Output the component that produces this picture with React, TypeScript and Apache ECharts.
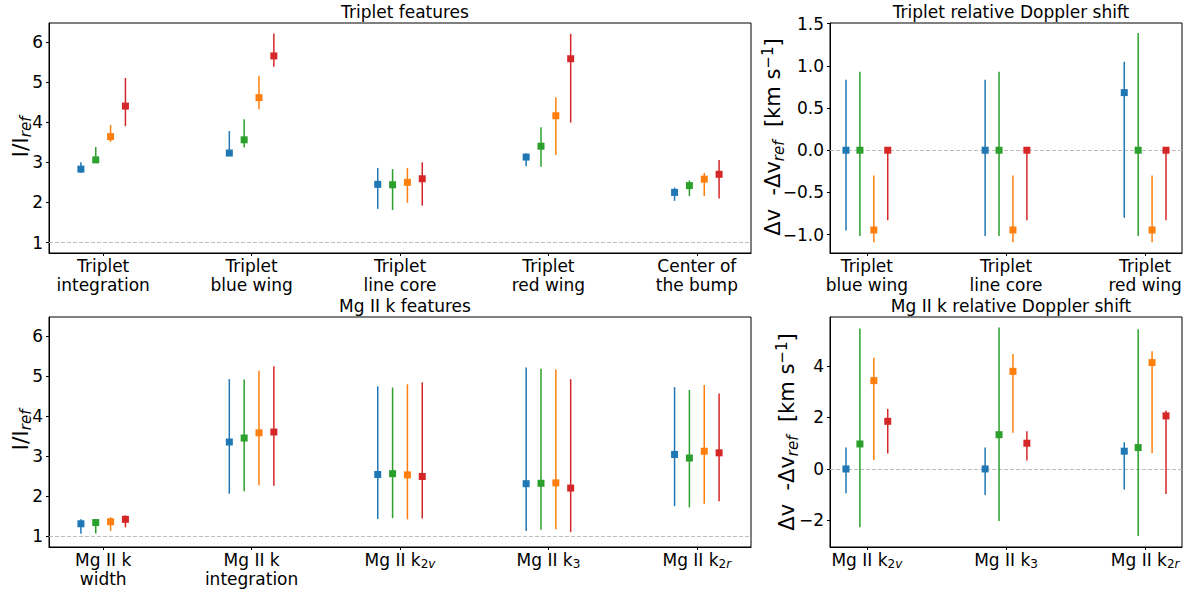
import React, { useEffect, useRef } from "react";
import * as echarts from "echarts";

const FONT = "DejaVu Sans";
const COLORS = ["#1f77b4", "#2ca02c", "#ff7f0e", "#d62728"];
const COLOR_NAMES = ["blue", "green", "orange", "red"];
const OFFSETS = [-0.15, -0.05, 0.05, 0.15];

// ---- Categories ----
const tripletCats = [
  "Triplet\nintegration",
  "Triplet\nblue wing",
  "Triplet\nline core",
  "Triplet\nred wing",
  "Center of\nthe bump",
];
const mgCats = [
  "Mg II k\nwidth",
  "Mg II k\nintegration",
  "{n|Mg II k}{s|2}{si|v}",
  "{n|Mg II k}{s|3}",
  "{n|Mg II k}{s|2}{si|r}",
];
const tripletShiftCats = ["Triplet\nblue wing", "Triplet\nline core", "Triplet\nred wing"];
const mgShiftCats = ["{n|Mg II k}{s|2}{si|v}", "{n|Mg II k}{s|3}", "{n|Mg II k}{s|2}{si|r}"];

// ---- Values: [value, lower end, upper end] ----
const tripletBlue = [[2.83, 2.74, 3.0], [3.23, 3.2, 3.78], [2.45, 1.84, 2.86], [3.13, 2.9, 3.22], [2.25, 2.04, 2.37]];
const tripletGreen = [[3.06, 3.0, 3.38], [3.56, 3.37, 4.07], [2.44, 1.81, 2.83], [3.4, 2.89, 3.87], [2.42, 2.16, 2.55]];
const tripletOrange = [[3.64, 3.51, 3.93], [4.61, 4.32, 5.15], [2.5, 1.99, 2.86], [4.16, 3.18, 4.62], [2.58, 2.16, 2.73]];
const tripletRed = [[4.4, 3.9, 5.1], [5.65, 5.38, 6.21], [2.59, 1.92, 3.0], [5.58, 3.99, 6.2], [2.7, 2.1, 3.06]];

const mgBlue = [[1.31, 1.06, 1.42], [3.35, 2.06, 4.92], [2.54, 1.43, 4.74], [2.31, 1.13, 5.21], [3.04, 1.75, 4.72]];
const mgGreen = [[1.34, 1.07, 1.41], [3.45, 2.12, 4.91], [2.56, 1.45, 4.71], [2.32, 1.16, 5.18], [2.95, 1.72, 4.65]];
const mgOrange = [[1.36, 1.13, 1.47], [3.58, 2.27, 5.13], [2.53, 1.42, 4.79], [2.33, 1.17, 5.16], [3.12, 1.81, 4.77]];
const mgRed = [[1.42, 1.22, 1.52], [3.6, 2.26, 5.24], [2.49, 1.44, 4.84], [2.2, 1.1, 4.92], [3.08, 1.87, 4.56]];

const tripletShiftBlue = [[0.0, -0.95, 0.834], [0.0, -1.016, 0.834], [0.683, -0.8, 1.048]];
const tripletShiftGreen = [[0.0, -1.016, 0.93], [0.0, -1.016, 0.93], [0.0, -1.016, 1.389]];
const tripletShiftOrange = [[-0.945, -1.09, -0.3], [-0.945, -1.09, -0.3], [-0.945, -1.09, -0.3]];
const tripletShiftRed = [[0.0, -0.83, 0.0], [0.0, -0.83, 0.0], [0.0, -0.83, 0.0]];

const mgShiftBlue = [[0.0, -0.94, 0.83], [0.0, -1.01, 0.83], [0.69, -0.8, 1.04]];
const mgShiftGreen = [[0.97, -2.26, 5.45], [1.33, -2.02, 5.49], [0.83, -2.6, 5.42]];
const mgShiftOrange = [[3.43, 0.35, 4.32], [3.79, 1.41, 4.46], [4.13, 0.61, 4.57]];
const mgShiftRed = [[1.85, 0.6, 2.33], [1.0, 0.33, 1.46], [2.06, -0.97, 2.27]];

// ---- Tick values ----
const intensityTicks = [1, 2, 3, 4, 5, 6];
const tripletShiftTicks = [-1.0, -0.5, 0.0, 0.5, 1.0, 1.5];
const mgShiftTicks = [-2, 0, 2, 4];

const panels = [
  {
    title: "Triplet features",
    cats: tripletCats,
    sets: [tripletBlue, tripletGreen, tripletOrange, tripletRed],
    grid: { left: 49, top: 23, width: 702, height: 230 },
    xr: [-0.365, 4.365],
    yr: [0.74, 6.47],
    yticks: intensityTicks,
    ref: 1,
    dec: 0,
  },
  {
    title: "Triplet relative Doppler shift",
    cats: tripletShiftCats,
    sets: [tripletShiftBlue, tripletShiftGreen, tripletShiftOrange, tripletShiftRed],
    grid: { left: 830, top: 23, width: 352, height: 230 },
    xr: [-0.265, 2.265],
    yr: [-1.218, 1.508],
    yticks: tripletShiftTicks,
    ref: 0,
    dec: 1,
  },
  {
    title: "Mg II k features",
    cats: mgCats,
    sets: [mgBlue, mgGreen, mgOrange, mgRed],
    grid: { left: 49, top: 317, width: 702, height: 230 },
    xr: [-0.365, 4.365],
    yr: [0.73, 6.47],
    yticks: intensityTicks,
    ref: 1,
    dec: 0,
  },
  {
    title: "Mg II k relative Doppler shift",
    cats: mgShiftCats,
    sets: [mgShiftBlue, mgShiftGreen, mgShiftOrange, mgShiftRed],
    grid: { left: 830, top: 317, width: 352, height: 230 },
    xr: [-0.265, 2.265],
    yr: [-3.03, 5.9],
    yticks: mgShiftTicks,
    ref: 0,
    dec: 0,
  },
];

const labelRich = {
  n: { fontSize: 17, fontFamily: FONT, color: "#000", lineHeight: 20 },
  s: { fontSize: 12, fontFamily: FONT, color: "#000", lineHeight: 12, verticalAlign: "bottom" },
  si: { fontSize: 12, fontFamily: FONT, color: "#000", lineHeight: 12, verticalAlign: "bottom", fontStyle: "italic" },
};

function buildOption() {
  const grids: any[] = [];
  const xAxes: any[] = [];
  const yAxes: any[] = [];
  const series: any[] = [];
  const titles: any[] = [];

  panels.forEach((p, pi) => {
    grids.push({ ...p.grid, show: true, borderColor: "#000", borderWidth: 1, backgroundColor: "transparent" });
    const catIdx = p.cats.map((_, i) => i);
    xAxes.push({
      type: "value",
      gridIndex: pi,
      min: p.xr[0],
      max: p.xr[1],
      splitLine: { show: false },
      axisLine: { show: true, onZero: false, lineStyle: { color: "#000", width: 1 } },
      axisTick: { show: true, customValues: catIdx, length: 3, lineStyle: { color: "#000", width: 1 } },
      axisLabel: {
        customValues: catIdx,
        margin: 3,
        fontSize: 17,
        lineHeight: 19,
        fontFamily: FONT,
        color: "#000",
        rich: labelRich,
        formatter: (v: number) => p.cats[Math.round(v)] ?? "",
      },
    });
    yAxes.push({
      type: "value",
      gridIndex: pi,
      min: p.yr[0],
      max: p.yr[1],
      splitLine: { show: false },
      axisLine: { show: true, onZero: false, lineStyle: { color: "#000", width: 1 } },
      axisTick: { show: true, customValues: p.yticks, length: 3, lineStyle: { color: "#000", width: 1 } },
      axisLabel: {
        customValues: p.yticks,
        margin: 6,
        fontSize: 17,
        fontFamily: FONT,
        color: "#000",
        formatter: (v: number) => v.toFixed(p.dec).replace("-", "\u2212"),
      },
    });
    titles.push({
      text: p.title,
      left: p.grid.left + p.grid.width / 2,
      top: p.grid.top - 25,
      textAlign: "center",
      textStyle: { fontSize: 17, fontWeight: "normal", color: "#000", fontFamily: FONT },
    });

    p.sets.forEach((set, ci) => {
      const color = COLORS[ci];
      series.push({
        type: "custom",
        name: `${p.title} ${COLOR_NAMES[ci]} error`,
        xAxisIndex: pi,
        yAxisIndex: pi,
        z: 3,
        silent: true,
        data: set.map((d, i) => [i + OFFSETS[ci], d[0], d[1], d[2]]),
        encode: { x: 0, y: 1 },
        renderItem: (params: any, api: any) => {
          const x = api.value(0);
          const lo = api.coord([x, api.value(2)]);
          const hi = api.coord([x, api.value(3)]);
          return {
            type: "line",
            shape: { x1: lo[0], y1: lo[1], x2: hi[0], y2: hi[1] },
            style: { stroke: color, lineWidth: 1.5 },
          };
        },
      });
      const sc: any = {
        type: "scatter",
        name: `${p.title} ${COLOR_NAMES[ci]}`,
        xAxisIndex: pi,
        yAxisIndex: pi,
        z: 4,
        symbol: "rect",
        symbolSize: 7,
        itemStyle: { color, opacity: 1 },
        data: set.map((d, i) => [i + OFFSETS[ci], d[0]]),
      };
      if (ci === 0) {
        sc.markLine = {
          silent: true,
          symbol: ["none", "none"],
          label: { show: false },
          z: 1,
          lineStyle: { type: [4, 2], color: "#bdbdbd", width: 1 },
          data: [{ yAxis: p.ref }],
        };
      }
      series.push(sc);
    });
  });

  const yNameRichLeft = {
    a: { fontSize: 22, fontFamily: FONT, color: "#000", lineHeight: 26 },
    b: { fontSize: 15, fontFamily: FONT, color: "#000", fontStyle: "italic", lineHeight: 12, verticalAlign: "bottom" },
  };
  const yNameRichRight = {
    n: { fontSize: 21, fontFamily: FONT, color: "#000", lineHeight: 26 },
    s: { fontSize: 15, fontFamily: FONT, color: "#000", fontStyle: "italic", lineHeight: 12, verticalAlign: "bottom" },
    p: { fontSize: 15, fontFamily: FONT, color: "#000", lineHeight: 12, verticalAlign: "top" },
  };
  const leftText = "{a|I/I}{b|ref}";
  const rightText = "{n|\u0394v  -\u0394v}{s|ref}{n|  [km s}{p|\u22121}{n|]}";
  const graphic = [
    { type: "text", x: 20, y: 137, rotation: Math.PI / 2, style: { text: leftText, rich: yNameRichLeft, align: "center", verticalAlign: "middle" } },
    { type: "text", x: 20, y: 430, rotation: Math.PI / 2, style: { text: leftText, rich: yNameRichLeft, align: "center", verticalAlign: "middle" } },
    { type: "text", x: 773, y: 137, rotation: Math.PI / 2, style: { text: rightText, rich: yNameRichRight, align: "center", verticalAlign: "middle" } },
    { type: "text", x: 787, y: 432, rotation: Math.PI / 2, style: { text: rightText, rich: yNameRichRight, align: "center", verticalAlign: "middle" } },
  ];

  return {
    animation: false,
    backgroundColor: "#fff",
    textStyle: { fontFamily: FONT },
    title: titles,
    grid: grids,
    xAxis: xAxes,
    yAxis: yAxes,
    series,
    graphic,
  };
}

export default function App() {
  const ref = useRef<HTMLDivElement>(null);
  useEffect(() => {
    if (!ref.current) return;
    const chart = echarts.init(ref.current, null, { renderer: "svg" });
    chart.setOption(buildOption() as any);
    return () => chart.dispose();
  }, []);
  return (
    <div
      ref={ref}
      style={{ position: "absolute", left: 0, top: 0, width: 1189, height: 591, background: "#fff" }}
    />
  );
}
